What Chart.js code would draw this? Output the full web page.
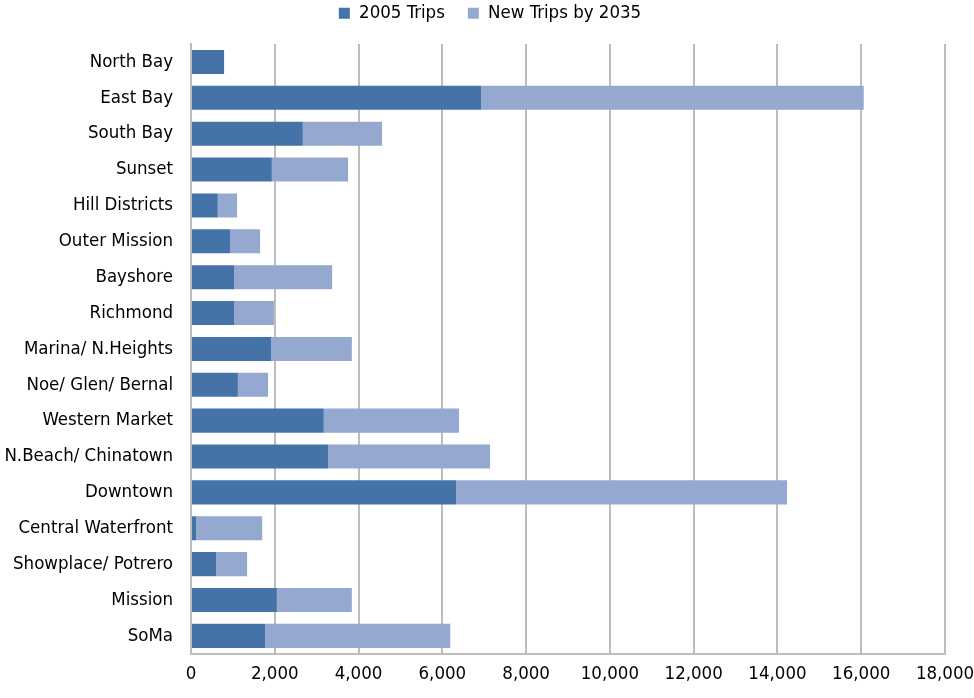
<!DOCTYPE html>
<html>
<head>
<meta charset="utf-8">
<script src="https://cdn.jsdelivr.net/npm/chart.js@4.4.1/dist/chart.umd.min.js"></script>
<style>
  html, body { margin: 0; padding: 0; background: #fff; }
  #wrap { width: 974px; height: 698px; position: relative; }
</style>
</head>
<body>
<div id="wrap"><canvas id="trips"></canvas></div>
<script>
// Districts, top to bottom
const districts = [
  'North Bay', 'East Bay', 'South Bay', 'Sunset', 'Hill Districts',
  'Outer Mission', 'Bayshore', 'Richmond', 'Marina/ N.Heights',
  'Noe/ Glen/ Bernal', 'Western Market', 'N.Beach/ Chinatown',
  'Downtown', 'Central Waterfront', 'Showplace/ Potrero', 'Mission', 'SoMa'
];

// Daily trips in 2005
const trips2005 = [
  790, 6930, 2670, 1930, 640,
  930, 1030, 1030, 1910,
  1120, 3170, 3270,
  6330, 120, 600, 2050, 1770
];

// Additional trips expected by 2035
const newTrips2035 = [
  0, 9130, 1890, 1820, 460,
  720, 2340, 950, 1930,
  720, 3230, 3870,
  7900, 1580, 740, 1790, 4420
];

const xTicks = [0, 2000, 4000, 6000, 8000, 10000, 12000, 14000, 16000, 18000];

const FONT = "'Liberation Sans Narrow', 'DejaVu Sans Condensed', 'Liberation Sans', sans-serif";
const DARK = '#4573a7';
const LIGHT = '#95a9d0';

// fixed legend band height, and centre the row without its trailing gap
const legendBand = {
  id: 'legendBand',
  afterInit(chart) {
    const lg = chart.legend;
    if (!lg) return;
    const fit = lg.fit;
    lg.fit = function () {
      fit.call(this);
      this.height = 63;
      if (this.lineWidths) this.lineWidths = this.lineWidths.map(w => w - 35);
    };
  }
};

new Chart(document.getElementById('trips'), {
  type: 'bar',
  data: {
    labels: districts,
    datasets: [
      { label: '2005 Trips', data: trips2005, backgroundColor: DARK },
      { label: 'New Trips by 2035', data: newTrips2035, backgroundColor: LIGHT }
    ]
  },
  options: {
    indexAxis: 'y',
    responsive: true,
    maintainAspectRatio: false,
    animation: false,
    layout: { padding: { top: -19, right: 29, bottom: 4, left: 0 } },
    datasets: {
      bar: { barPercentage: 0.67, categoryPercentage: 1, borderWidth: 0 }
    },
    plugins: {
      tooltip: { enabled: false },
      legend: {
        position: 'top',
        labels: {
          color: '#000',
          font: { family: FONT, size: 18.5 },
          boxWidth: 11,
          boxHeight: 11,
          padding: 23
        }
      }
    },
    scales: {
      x: {
        stacked: true,
        min: 0,
        max: 18000,
        afterBuildTicks: (axis) => { axis.ticks = xTicks.map(v => ({ value: v })); },
        afterFit: (axis) => { axis.paddingRight = 0; axis.paddingLeft = 0; },
        grid: { color: '#bdbdbd', lineWidth: 2, drawTicks: false },
        border: { color: '#bdbdbd', width: 2 },
        ticks: {
          color: '#000',
          padding: 9,
          maxRotation: 0,
          font: { family: FONT, size: 18.5 },
          callback: (v) => Number(v).toLocaleString('en-US')
        }
      },
      y: {
        stacked: true,
        grid: { display: false, drawTicks: false },
        border: { color: '#bdbdbd', width: 2 },
        afterFit: (axis) => { axis.width = 191; },
        ticks: {
          color: '#000',
          padding: 18,
          autoSkip: false,
          font: { family: FONT, size: 18.5 }
        }
      }
    }
  },
  plugins: [legendBand]
});
</script>
</body>
</html>
